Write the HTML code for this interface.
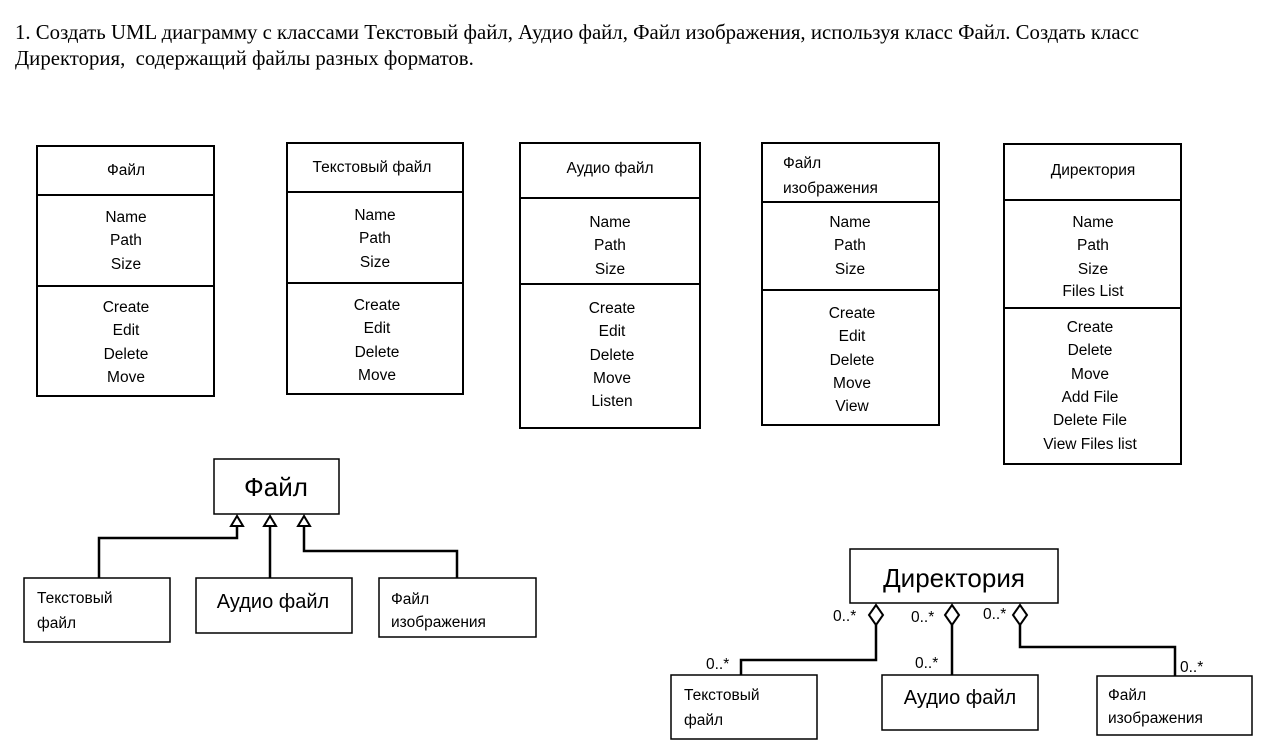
<!DOCTYPE html>
<html><head><meta charset="utf-8"><style>
html,body{margin:0;padding:0;background:#fff;}
svg{display:block;}
.t{font-family:"Liberation Serif","Noto Serif CJK SC",serif;font-size:20.8px;}
.s{font-family:"Liberation Sans","Noto Sans CJK SC",sans-serif;font-size:15.5px;}
.c{text-anchor:middle;}
.l{text-anchor:start;}
</style></head><body>
<svg width="1279" height="750" xmlns="http://www.w3.org/2000/svg">
<text class="t" x="15" y="39">1. Создать UML диаграмму с классами Текстовый файл, Аудио файл, Файл изображения, используя класс Файл. Создать класс</text>
<text class="t" x="15" y="65" xml:space="preserve">Директория,  содержащий файлы разных форматов.</text>
<g fill="none" stroke="#000" stroke-width="2">
<rect x="37" y="146" width="177" height="250"/><line x1="37" y1="195" x2="214" y2="195"/><line x1="37" y1="286" x2="214" y2="286"/>
<rect x="287" y="143" width="176" height="251"/><line x1="287" y1="192" x2="463" y2="192"/><line x1="287" y1="283" x2="463" y2="283"/>
<rect x="520" y="143" width="180" height="285"/><line x1="520" y1="198" x2="700" y2="198"/><line x1="520" y1="284" x2="700" y2="284"/>
<rect x="762" y="143" width="177" height="282"/><line x1="762" y1="202" x2="939" y2="202"/><line x1="762" y1="290" x2="939" y2="290"/>
<rect x="1004" y="144" width="177" height="320"/><line x1="1004" y1="200" x2="1181" y2="200"/><line x1="1004" y1="308" x2="1181" y2="308"/>
</g>
<g>
<text x="126" y="175" class="s c">Файл</text>
<text x="126" y="222" class="s c">Name</text><text x="126" y="245" class="s c">Path</text><text x="126" y="269" class="s c">Size</text>
<text x="126" y="312" class="s c">Create</text><text x="126" y="335" class="s c">Edit</text><text x="126" y="359" class="s c">Delete</text><text x="126" y="382" class="s c">Move</text>
<text x="372" y="172" class="s c">Текстовый файл</text>
<text x="375" y="220" class="s c">Name</text><text x="375" y="243" class="s c">Path</text><text x="375" y="267" class="s c">Size</text>
<text x="377" y="310" class="s c">Create</text><text x="377" y="333" class="s c">Edit</text><text x="377" y="357" class="s c">Delete</text><text x="377" y="380" class="s c">Move</text>
<text x="610" y="173" class="s c">Аудио файл</text>
<text x="610" y="227" class="s c">Name</text><text x="610" y="250" class="s c">Path</text><text x="610" y="274" class="s c">Size</text>
<text x="612" y="313" class="s c">Create</text><text x="612" y="336" class="s c">Edit</text><text x="612" y="360" class="s c">Delete</text><text x="612" y="383" class="s c">Move</text><text x="612" y="406" class="s c">Listen</text>
<text x="783" y="168" class="s l">Файл</text><text x="783" y="193" class="s l">изображения</text>
<text x="850" y="227" class="s c">Name</text><text x="850" y="250" class="s c">Path</text><text x="850" y="274" class="s c">Size</text>
<text x="852" y="318" class="s c">Create</text><text x="852" y="341" class="s c">Edit</text><text x="852" y="365" class="s c">Delete</text><text x="852" y="388" class="s c">Move</text><text x="852" y="411" class="s c">View</text>
<text x="1093" y="175" class="s c">Директория</text>
<text x="1093" y="227" class="s c">Name</text><text x="1093" y="250" class="s c">Path</text><text x="1093" y="274" class="s c">Size</text><text x="1093" y="296" class="s c">Files List</text>
<text x="1090" y="332" class="s c">Create</text><text x="1090" y="355" class="s c">Delete</text><text x="1090" y="379" class="s c">Move</text><text x="1090" y="402" class="s c">Add File</text><text x="1090" y="425" class="s c">Delete File</text><text x="1090" y="449" class="s c">View Files list</text>
</g>
<g fill="none" stroke="#000" stroke-width="1.5">
<rect x="214" y="459" width="125" height="55"/>
<rect x="24" y="578" width="146" height="64"/>
<rect x="196" y="578" width="156" height="55"/>
<rect x="379" y="578" width="157" height="59"/>
</g>
<g fill="none" stroke="#000" stroke-width="2.5">
<polyline points="99,578 99,538 237,538 237,526"/>
<line x1="270" y1="578" x2="270" y2="526"/>
<polyline points="457,578 457,551 304,551 304,526"/>
</g>
<g fill="#fff" stroke="#000" stroke-width="2">
<polygon points="237,516 231,526 243,526"/><polygon points="270,516 264,526 276,526"/><polygon points="304,516 298,526 310,526"/>
</g>
<text x="276" y="496" class="s c" style="font-size:26px">Файл</text>
<text x="37" y="603" class="s l">Текстовый</text><text x="37" y="628" class="s l">файл</text>
<text x="273" y="608" class="s c" style="font-size:20px">Аудио файл</text>
<text x="391" y="604" class="s l">Файл</text><text x="391" y="627" class="s l">изображения</text>
<g fill="none" stroke="#000" stroke-width="1.5">
<rect x="850" y="549" width="208" height="54"/>
<rect x="671" y="675" width="146" height="64"/>
<rect x="882" y="675" width="156" height="55"/>
<rect x="1097" y="676" width="155" height="59"/>
</g>
<g fill="none" stroke="#000" stroke-width="2.5">
<polyline points="876,625 876,660 741,660 741,675"/>
<line x1="952" y1="625" x2="952" y2="675"/>
<polyline points="1020,625 1020,647 1175,647 1175,676"/>
</g>
<g fill="#fff" stroke="#000" stroke-width="2">
<polygon points="876,605 883,615 876,625 869,615"/><polygon points="952,605 959,615 952,625 945,615"/><polygon points="1020,605 1027,615 1020,625 1013,615"/>
</g>
<text x="954" y="587" class="s c" style="font-size:26px">Директория</text>
<g style="font-size:15px">
<text x="833" y="621" class="s l">0..*</text><text x="911" y="622" class="s l">0..*</text><text x="983" y="619" class="s l">0..*</text>
<text x="706" y="669" class="s l">0..*</text><text x="915" y="668" class="s l">0..*</text><text x="1180" y="672" class="s l">0..*</text>
</g>
<text x="684" y="700" class="s l">Текстовый</text><text x="684" y="725" class="s l">файл</text>
<text x="960" y="704" class="s c" style="font-size:20px">Аудио файл</text>
<text x="1108" y="700" class="s l">Файл</text><text x="1108" y="723" class="s l">изображения</text>
</svg>
</body></html>
